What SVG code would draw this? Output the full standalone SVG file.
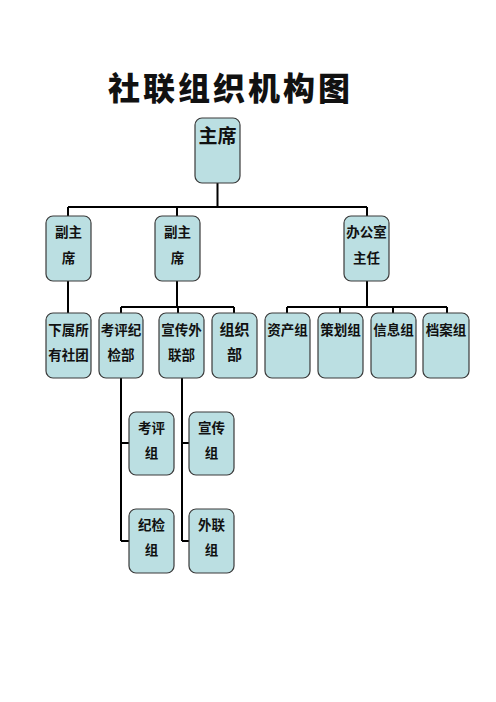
<svg xmlns="http://www.w3.org/2000/svg" width="496" height="702" viewBox="0 0 496 702">
<style>
.bx{fill:#BBDFE2;stroke:#3a3a3a;stroke-width:1.2}
.t{font-family:"Noto Sans CJK SC","Noto Sans",sans-serif;font-weight:bold;font-size:13.5px;fill:#111;text-anchor:middle}
.ln{stroke:#000;stroke-width:2;fill:none}
</style>
<rect width="496" height="702" fill="#fff"/>
<text x="229" y="100" style="font-family:'Noto Sans CJK SC',sans-serif;font-weight:900;font-size:32px;fill:#111" text-anchor="middle" textLength="242" lengthAdjust="spacing">社联组织机构图</text>
<g id="connectors" class="ln">
<path d="M217.5 183V207M68 207H367M68 207V216M177 207V216M367 207V216"/>
<path d="M68 281V313"/>
<path d="M177 281V307M121 307H234M121 307V313M178 307V313M234 307V313"/>
<path d="M367 281V307M287 307H447M287 307V313M340 307V313M393 307V313M447 307V313"/>
<path d="M121 378V541M121 443H129M121 541H129"/>
<path d="M182 378V541M182 443H189M182 541H189"/>
</g>
<g id="n-zhuxi"><rect class="bx" x="195" y="118" width="45" height="65" rx="7"/><text class="t" x="217.5" y="143" style="font-size:19px">主席</text></g>
<g id="n-fu1"><rect class="bx" x="46" y="216" width="45" height="65" rx="7"/><text class="t" x="68.5" y="237">副主</text><text class="t" x="68.5" y="263">席</text></g>
<g id="n-fu2"><rect class="bx" x="155" y="216" width="45" height="65" rx="7"/><text class="t" x="177.5" y="237">副主</text><text class="t" x="177.5" y="263">席</text></g>
<g id="n-bgs"><rect class="bx" x="344" y="216" width="45" height="65" rx="7"/><text class="t" x="366.5" y="237">办公室</text><text class="t" x="366.5" y="263">主任</text></g>
<g id="n-xsst"><rect class="bx" x="46" y="313" width="45" height="65" rx="7"/><text class="t" x="68.5" y="335">下属所</text><text class="t" x="68.5" y="360">有社团</text></g>
<g id="n-kpjj"><rect class="bx" x="99" y="313" width="44" height="65" rx="7"/><text class="t" x="121" y="335">考评纪</text><text class="t" x="121" y="360">检部</text></g>
<g id="n-xcwl"><rect class="bx" x="159" y="313" width="45" height="65" rx="7"/><text class="t" x="181.5" y="335">宣传外</text><text class="t" x="181.5" y="360">联部</text></g>
<g id="n-zzb"><rect class="bx" x="212" y="313" width="45" height="65" rx="7"/><text class="t" x="234.5" y="335" style="font-size:15px">组织</text><text class="t" x="234.5" y="360" style="font-size:15px">部</text></g>
<g id="n-zcz"><rect class="bx" x="265" y="313" width="45" height="65" rx="7"/><text class="t" x="287.5" y="335">资产组</text></g>
<g id="n-chz"><rect class="bx" x="318" y="313" width="45" height="65" rx="7"/><text class="t" x="340.5" y="335">策划组</text></g>
<g id="n-xxz"><rect class="bx" x="371" y="313" width="45" height="65" rx="7"/><text class="t" x="393.5" y="335">信息组</text></g>
<g id="n-daz"><rect class="bx" x="423" y="313" width="46" height="65" rx="7"/><text class="t" x="446" y="335">档案组</text></g>
<g id="n-kpz"><rect class="bx" x="129" y="412" width="45" height="63" rx="7"/><text class="t" x="151.5" y="433">考评</text><text class="t" x="151.5" y="458">组</text></g>
<g id="n-jjz"><rect class="bx" x="129" y="509" width="45" height="64" rx="7"/><text class="t" x="151.5" y="530">纪检</text><text class="t" x="151.5" y="555">组</text></g>
<g id="n-xcz"><rect class="bx" x="189" y="412" width="45" height="63" rx="7"/><text class="t" x="211.5" y="433">宣传</text><text class="t" x="211.5" y="458">组</text></g>
<g id="n-wlz"><rect class="bx" x="189" y="509" width="45" height="64" rx="7"/><text class="t" x="211.5" y="530">外联</text><text class="t" x="211.5" y="555">组</text></g>
</svg>
